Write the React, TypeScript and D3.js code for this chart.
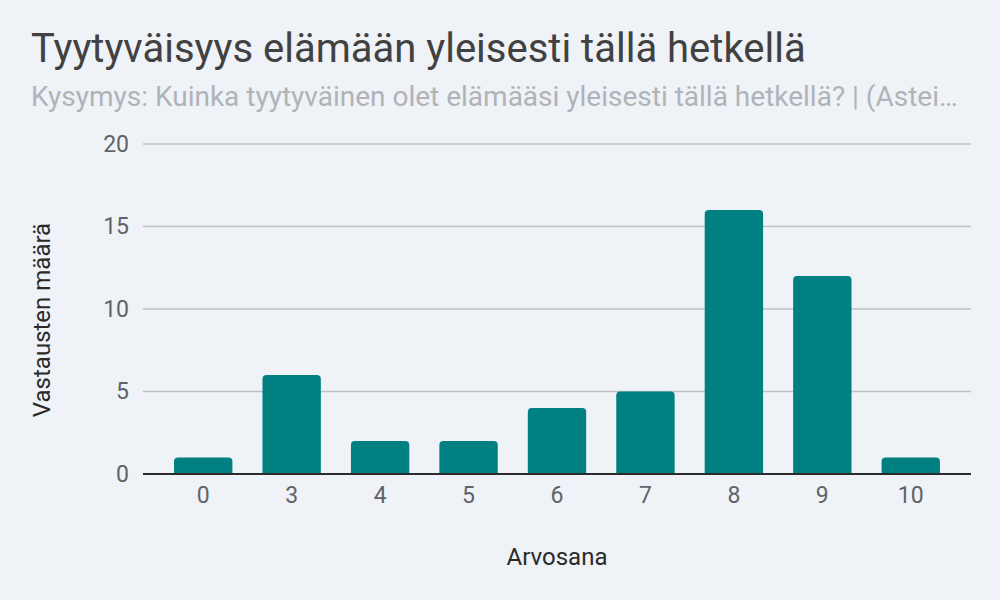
import { useRef, useEffect } from "react";
import * as d3 from "d3";

const grades = ["0", "3", "4", "5", "6", "7", "8", "9", "10"];
const counts = [1, 6, 2, 2, 4, 5, 16, 12, 1];
const yTicks = [0, 5, 10, 15, 20];

const title = "Tyytyväisyys elämään yleisesti tällä hetkellä";
const subtitle = "Kysymys: Kuinka tyytyväinen olet elämääsi yleisesti tällä hetkellä? | (Astei…";
const xTitle = "Arvosana";
const yTitle = "Vastausten määrä";

export default function App() {
  const svgRef = useRef<SVGSVGElement>(null);

  useEffect(() => {
    if (!svgRef.current) return;
    const width = 1000;
    const height = 600;
    const margin = { top: 144, right: 29, bottom: 126, left: 143 };
    const font = "Roboto, 'Noto Sans', sans-serif";

    const svg = d3.select(svgRef.current);
    svg.selectAll("*").remove();
    svg.attr("width", width).attr("height", height).attr("viewBox", `0 0 ${width} ${height}`);

    svg.append("rect").attr("width", width).attr("height", height).attr("fill", "#eff2f7");

    const innerWidth = width - margin.left - margin.right;
    const innerHeight = height - margin.top - margin.bottom;

    const g = svg.append("g").attr("transform", `translate(${margin.left},${margin.top})`);

    const x = d3
      .scaleBand()
      .domain(grades)
      .range([16, innerWidth - 16])
      .paddingInner(0.34)
      .paddingOuter(0.17);
    const y = d3.scaleLinear().domain([0, 20]).range([innerHeight, 0]);

    // gridlines
    g.append("g")
      .selectAll("line")
      .data(yTicks.filter((t) => t !== 0))
      .join("line")
      .attr("x1", 0)
      .attr("x2", innerWidth)
      .attr("y1", (d) => y(d))
      .attr("y2", (d) => y(d))
      .attr("stroke", "#bfc1c6")
      .attr("stroke-width", 1.5);

    // y labels
    g.append("g")
      .call(d3.axisLeft(y).tickValues(yTicks).tickSize(0).tickPadding(14))
      .call((a) => a.select(".domain").remove())
      .selectAll("text")
      .style("font-family", font)
      .style("font-size", "23px")
      .style("fill", "#5f6368");

    // bars, rounded top
    const r = 4;
    g.selectAll(".bar")
      .data(counts)
      .join("path")
      .attr("class", "bar")
      .attr("fill", "#008080")
      .attr("d", (d, i) => {
        const x0 = x(grades[i]) ?? 0;
        const w = x.bandwidth();
        const y0 = y(d);
        const yb = y(0);
        return `M${x0},${yb}V${y0 + r}Q${x0},${y0} ${x0 + r},${y0}H${x0 + w - r}Q${x0 + w},${y0} ${x0 + w},${y0 + r}V${yb}Z`;
      });

    // baseline
    g.append("line")
      .attr("x1", 0)
      .attr("x2", innerWidth)
      .attr("y1", y(0))
      .attr("y2", y(0))
      .attr("stroke", "#2b2b2b")
      .attr("stroke-width", 2);

    // x labels
    g.append("g")
      .attr("transform", `translate(0,${innerHeight})`)
      .call(d3.axisBottom(x).tickSize(0).tickPadding(13))
      .call((a) => a.select(".domain").remove())
      .selectAll("text")
      .style("font-family", font)
      .style("font-size", "23px")
      .style("fill", "#5f6368");

    // titles
    svg.append("text")
      .attr("x", 31)
      .attr("y", 62)
      .style("font-family", font)
      .style("font-size", "40px")
      .style("fill", "#414141")
      .text(title);

    svg.append("text")
      .attr("x", 31)
      .attr("y", 106)
      .style("font-family", font)
      .style("font-size", "28px")
      .style("fill", "#b0b3b8")
      .text(subtitle);

    svg.append("text")
      .attr("x", margin.left + innerWidth / 2)
      .attr("y", 565)
      .attr("text-anchor", "middle")
      .style("font-family", font)
      .style("font-size", "24px")
      .style("fill", "#2a2a2a")
      .text(xTitle);

    svg.append("text")
      .attr("transform", `translate(50,320) rotate(-90)`)
      .attr("text-anchor", "middle")
      .style("font-family", font)
      .style("font-size", "24px")
      .style("fill", "#2a2a2a")
      .text(yTitle);
  }, []);

  return <svg ref={svgRef} style={{ position: "absolute", left: 0, top: 0, display: "block" }} />;
}
